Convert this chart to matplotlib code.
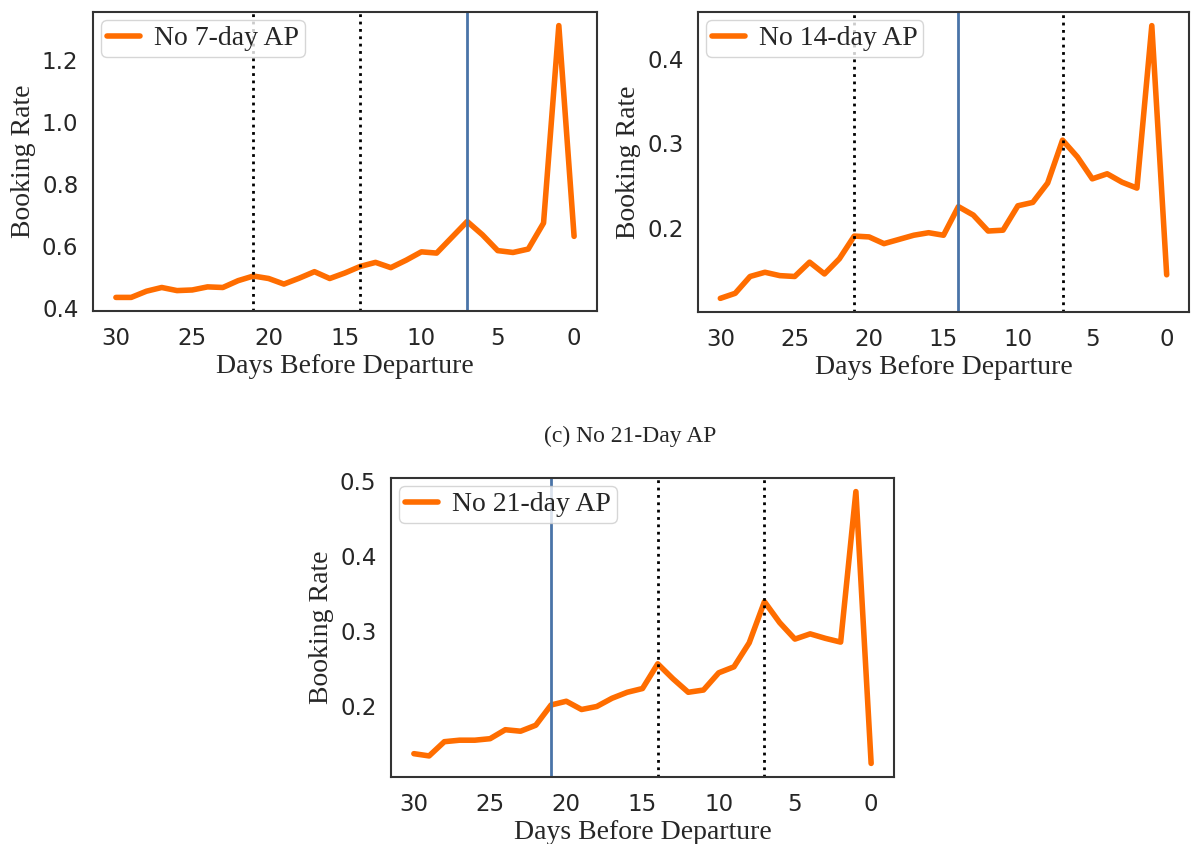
import matplotlib
matplotlib.use("Agg")
import matplotlib.pyplot as plt
import seaborn as sns
import numpy as np

sns.set_style("white")
plt.rcParams['font.family'] = ['DejaVu Sans']

# days before departure, 30 .. 0
days = np.arange(30, -1, -1)

rate_7 = [0.433, 0.433, 0.453, 0.465, 0.455, 0.457, 0.467, 0.465, 0.487, 0.502,
          0.494, 0.476, 0.495, 0.516, 0.494, 0.512, 0.533, 0.546, 0.529, 0.553,
          0.580, 0.576, 0.627, 0.678, 0.635, 0.584, 0.578, 0.589, 0.673, 1.310, 0.630]

rate_14 = [0.116, 0.122, 0.142, 0.147, 0.143, 0.142, 0.159, 0.145, 0.163, 0.190,
           0.189, 0.181, 0.186, 0.191, 0.194, 0.191, 0.225, 0.215, 0.196, 0.197,
           0.226, 0.230, 0.253, 0.304, 0.284, 0.258, 0.264, 0.254, 0.247, 0.440, 0.144]

rate_21 = [0.136, 0.133, 0.152, 0.154, 0.154, 0.156, 0.168, 0.166, 0.174, 0.201,
           0.206, 0.195, 0.199, 0.210, 0.218, 0.223, 0.256, 0.236, 0.218, 0.221,
           0.244, 0.252, 0.284, 0.339, 0.311, 0.289, 0.296, 0.290, 0.285, 0.486, 0.123]

ap_days = [7, 14, 21]
labels = ["No 7-day AP", "No 14-day AP", "No 21-day AP"]
series = [rate_7, rate_14, rate_21]

W, H = 1192, 844
fig = plt.figure(figsize=(W / 100, H / 100), dpi=100)

# axes boxes in pixels: left, top, right, bottom
boxes = [(93, 12, 597, 311), (698, 12, 1189, 312), (391, 478, 894, 777)]

serif = ['Liberation Serif', 'DejaVu Serif']
orange = '#ff6d00'
blue = '#4a74a8'

for box, ap, lab, y in zip(boxes, ap_days, labels, series):
    l, t, r, b = box
    ax = fig.add_axes([l / W, 1 - b / H, (r - l) / W, (b - t) / H])
    ax.plot(days, y, color=orange, lw=4, label=lab, solid_capstyle='round')
    for d in ap_days:
        if d == ap:
            ax.axvline(d, color=blue, lw=2)
        else:
            ax.axvline(d, color='black', lw=2, ls=':')
    ax.invert_xaxis()
    ax.set_xticks([30, 25, 20, 15, 10, 5, 0])
    ax.tick_params(labelsize=16.5, colors='#262626')
    ax.tick_params(axis='x', pad=8)
    ax.tick_params(axis='y', pad=7)
    ax.set_xlabel("Days Before Departure", fontsize=20, family=serif,
                  color='#262626', labelpad=3)
    ax.set_ylabel("Booking Rate", fontsize=20, family=serif,
                  color='#262626', labelpad=4)
    for s in ax.spines.values():
        s.set_color('#333333')
        s.set_linewidth(1.5)
    ax.legend(loc='upper left', prop={'family': serif, 'size': 20},
              handlelength=1.2, borderaxespad=0.3, borderpad=0.2,
              handletextpad=0.5, framealpha=0.8)

axes = fig.get_axes()
axes[0].set_yticks([0.4, 0.6, 0.8, 1.0, 1.2])
axes[1].set_yticks([0.2, 0.3, 0.4])
axes[2].set_yticks([0.2, 0.3, 0.4, 0.5])

fig.text(630 / W, 1 - 436 / H, "(c) No 21-Day AP", ha='center', va='center',
         fontsize=17, family=serif, color='#262626')

fig.savefig("out.png", dpi=100)
